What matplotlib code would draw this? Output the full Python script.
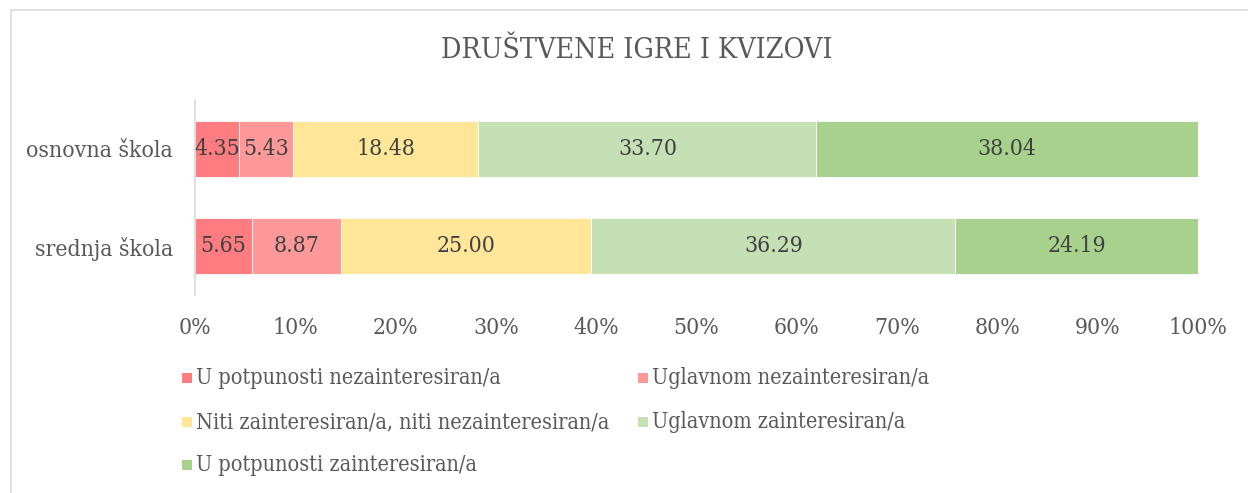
import matplotlib
matplotlib.use('Agg')
from matplotlib import pyplot as plt
from matplotlib.patches import Rectangle

# Data
categories = ['osnovna škola', 'srednja škola']
series_names = ['U potpunosti nezainteresiran/a', 'Uglavnom nezainteresiran/a',
                'Niti zainteresiran/a, niti nezainteresiran/a', 'Uglavnom zainteresiran/a',
                'U potpunosti zainteresiran/a']
values = [
    [4.35, 5.65],
    [5.43, 8.87],
    [18.48, 25.00],
    [33.70, 36.29],
    [38.04, 24.19],
]
colors = ['#FF7C80', '#FF9999', '#FFE699', '#C5E0B4', '#A9D18E']
tick_labels = ['0%', '10%', '20%', '30%', '40%', '50%', '60%', '70%', '80%', '90%', '100%']

plt.rcParams['font.family'] = ['DejaVu Serif']
plt.rcParams['font.stretch'] = 'condensed'

W, H = 1248, 493
fig = plt.figure(figsize=(W / 100, H / 100), dpi=100)

# Outer chart frame (light gray), right and bottom edges run off the image
fig.add_artist(Rectangle((11 / W, -0.2), 1.5, 1.2 - 10 / H, transform=fig.transFigure,
                         fill=False, edgecolor='#D9D9D9', linewidth=1.2))

ax = fig.add_axes([195 / W, 1 - 295 / H, (1198 - 195) / W, (295 - 100) / H])

# Stacked horizontal bars
left = [0, 0]
for name, vals, col in zip(series_names, values, colors):
    bars = ax.barh(categories, vals, left=left, height=0.575, color=col,
                   edgecolor='white', linewidth=0.6, label=name)
    ax.bar_label(bars, labels=['%.2f' % v for v in vals], label_type='center',
                 fontsize=16.5, color='#404040')
    left = [l + v for l, v in zip(left, vals)]

ax.set_xlim(0, 100)
ax.set_ylim(1.5, -0.5)
ax.set_xticks(range(0, 101, 10))
ax.set_xticklabels(tick_labels)
ax.tick_params(axis='x', length=0, labelsize=16.5, labelcolor='#595959', pad=16)
ax.tick_params(axis='y', length=0, labelsize=16.5, labelcolor='#595959', pad=16)
for s in ['top', 'right', 'bottom']:
    ax.spines[s].set_visible(False)
ax.spines['left'].set_color('#D9D9D9')
ax.spines['left'].set_linewidth(1.2)

# Title
fig.text(637 / W, 1 - 50 / H, 'DRUŠTVENE IGRE I KVIZOVI', ha='center', va='center',
         fontsize=20.5, color='#595959')

# Legend, filled row by row in two columns
col_x = [182, 638]
row_y = [378, 422, 465]
for i, (name, col) in enumerate(zip(series_names, colors)):
    x = col_x[i % 2]
    y = row_y[i // 2]
    fig.add_artist(Rectangle((x / W, 1 - (y + 5) / H), 10 / W, 10 / H,
                             transform=fig.transFigure, facecolor=col, edgecolor='none'))
    fig.text((x + 14) / W, 1 - y / H, name, ha='left', va='center',
             fontsize=15.5, color='#595959')

fig.savefig('out.png', dpi=100)
